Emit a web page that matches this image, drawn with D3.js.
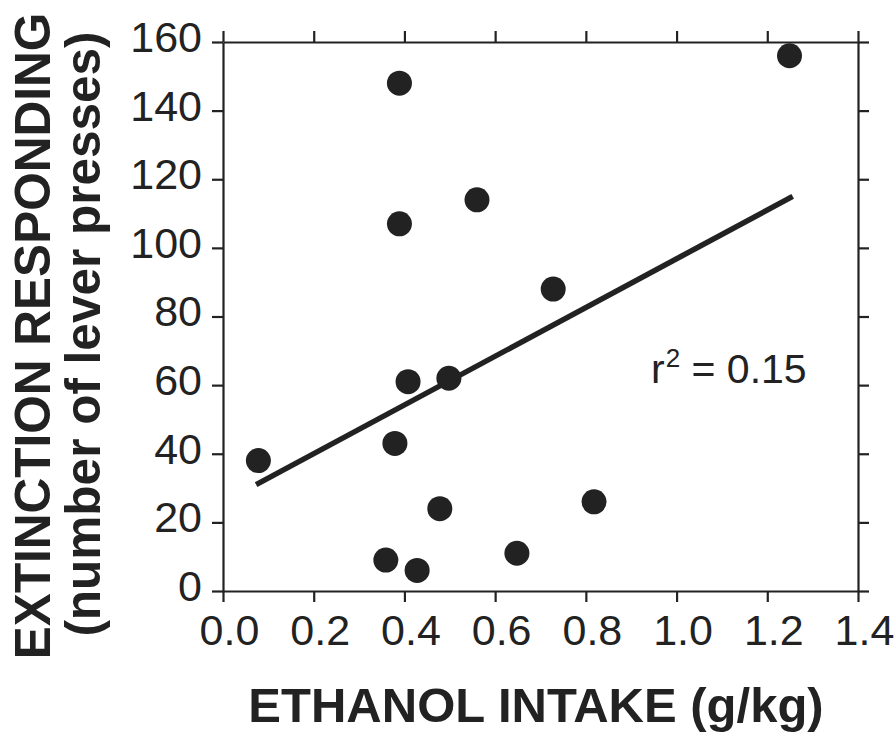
<!DOCTYPE html>
<html>
<head>
<meta charset="utf-8">
<script src="https://cdn.jsdelivr.net/npm/d3@7"></script>
<style>
  html, body { margin: 0; padding: 0; background: #fff; }
  svg { display: block; }
  text { font-family: "Liberation Sans", Arial, Helvetica, sans-serif; fill: #222; }
</style>
</head>
<body>
<svg id="chart" width="895" height="740"></svg>
<script>
// ---- data ----
const intake = [0.078, 0.379, 0.359, 0.428, 0.478, 0.389, 1.249, 0.389, 0.56, 0.728, 0.408, 0.498, 0.648, 0.818];
const responding = [38, 43, 9, 6, 24, 148, 156, 107, 114, 88, 61, 62, 11, 26];
const fitX = [0.073, 1.256];
const fitY = [31, 115];
const xTicks = [0.0, 0.2, 0.4, 0.6, 0.8, 1.0, 1.2, 1.4];
const yTicks = [0, 20, 40, 60, 80, 100, 120, 140, 160];
const xTitle = "ETHANOL INTAKE (g/kg)";
const yTitle1 = "EXTINCTION RESPONDING";
const yTitle2 = "(number of lever presses)";
const rLabel = { base: "r", sup: "2", rest: " = 0.15" };

// ---- layout ----
const L = 223, R = 858, T = 42, B = 591;
const ink = "#222";
const svg = d3.select("#chart");

const x = d3.scaleLinear().domain([0, 1.4]).range([L, R]);
const y = d3.scaleLinear().domain([0, 160]).range([B, T]);

function styleAxis(g) {
  g.selectAll("path.domain").attr("stroke", ink).attr("stroke-width", 2.2);
  g.selectAll(".tick line").attr("stroke", ink).attr("stroke-width", 2.2);
}

// bottom axis
const gB = svg.append("g").attr("transform", `translate(0,${B})`)
  .call(d3.axisBottom(x).tickValues(xTicks).tickSize(11).tickSizeOuter(0).tickFormat(d3.format(".1f")));
styleAxis(gB);
gB.selectAll(".tick text")
  .attr("y", 54).attr("dy", 0).attr("dx", 6)
  .attr("font-size", 43).attr("fill", ink)
  .style("font-family", '"Liberation Sans", Arial, sans-serif');

// top axis
const gT = svg.append("g").attr("transform", `translate(0,${T})`)
  .call(d3.axisTop(x).tickValues(xTicks).tickSize(11).tickSizeOuter(0).tickFormat(""));
styleAxis(gT);

// left axis
const gL = svg.append("g").attr("transform", `translate(${L},0)`)
  .call(d3.axisLeft(y).tickValues(yTicks).tickSize(11).tickSizeOuter(0).tickPadding(10).tickFormat(d3.format("d")));
styleAxis(gL);
gL.selectAll(".tick text")
  .attr("dy", "0.22em")
  .attr("font-size", 43).attr("fill", ink)
  .style("font-family", '"Liberation Sans", Arial, sans-serif');

// right axis
const gR = svg.append("g").attr("transform", `translate(${R},0)`)
  .call(d3.axisRight(y).tickValues(yTicks).tickSize(11).tickSizeOuter(0).tickFormat(""));
styleAxis(gR);

// regression line
svg.append("line")
  .attr("x1", x(fitX[0])).attr("y1", y(fitY[0]))
  .attr("x2", x(fitX[1])).attr("y2", y(fitY[1]))
  .attr("stroke", ink).attr("stroke-width", 5.5);

// points
svg.append("g").selectAll("circle")
  .data(intake.map((v, i) => [v, responding[i]]))
  .join("circle")
  .attr("cx", d => x(d[0])).attr("cy", d => y(d[1]))
  .attr("r", 12.5).attr("fill", ink);

// r^2 label
const rt = svg.append("text").attr("x", 651).attr("y", 383).attr("font-size", 41);
rt.append("tspan").text(rLabel.base);
rt.append("tspan").attr("font-size", 26).attr("dy", -16).attr("dx", 1).text(rLabel.sup);
rt.append("tspan").attr("dy", 16).text(rLabel.rest);

// x title
svg.append("text")
  .attr("x", 536).attr("y", 722)
  .attr("text-anchor", "middle")
  .attr("font-size", 49).attr("font-weight", "bold")
  .text(xTitle);

// y titles
svg.append("text")
  .attr("transform", "translate(50,336) rotate(-90)")
  .attr("text-anchor", "middle")
  .attr("font-size", 49.5).attr("font-weight", "bold")
  .text(yTitle1);
svg.append("text")
  .attr("transform", "translate(100,334) rotate(-90)")
  .attr("text-anchor", "middle")
  .attr("font-size", 49.5).attr("font-weight", "bold")
  .text(yTitle2);
</script>
</body>
</html>
